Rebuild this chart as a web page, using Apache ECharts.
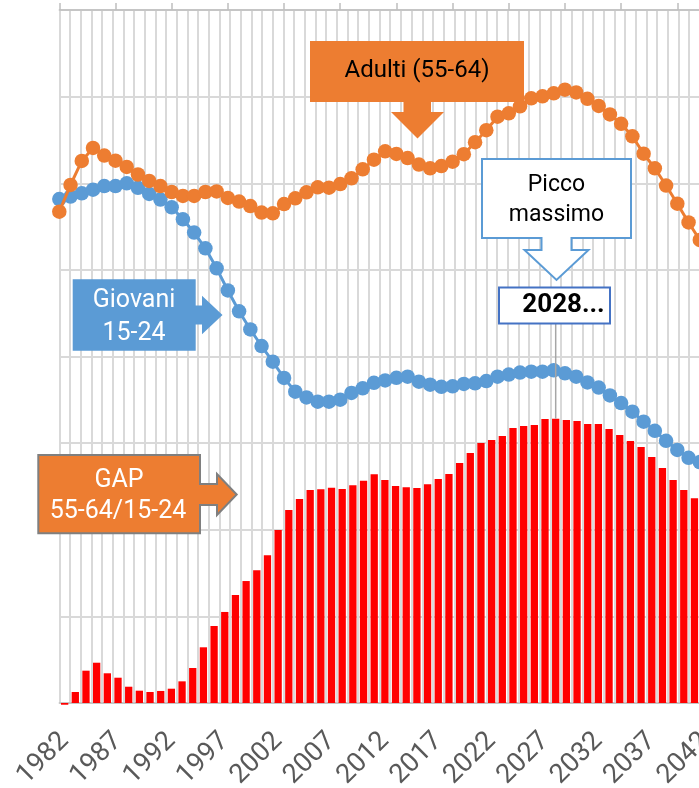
<!DOCTYPE html>
<html>
<head>
<meta charset="utf-8">
<script src="https://cdn.jsdelivr.net/npm/echarts@6/dist/echarts.min.js"></script>
<style>
html,body{margin:0;padding:0;background:#ffffff;}
#chart{width:699px;height:788px;}
</style>
</head>
<body>
<div id="chart"></div>
<script>
// Bar (GAP) categories – primary horizontal axis (bottom)
const barYears = ['1982','1983','1984','1985','1986','1987','1988','1989','1990','1991',
  '1992','1993','1994','1995','1996','1997','1998','1999','2000','2001',
  '2002','2003','2004','2005','2006','2007','2008','2009','2010','2011',
  '2012','2013','2014','2015','2016','2017','2018','2019','2020','2021',
  '2022','2023','2024','2025','2026','2027','2028','2029','2030','2031',
  '2032','2033','2034','2035','2036','2037','2038','2039','2040','2041',
  '2042','2043','2044','2045','2046','2047','2048','2049','2050','2051',
  '2052','2053','2054','2055','2056','2057','2058','2059','2060','2061'];

// Line categories – secondary horizontal axis (top)
const lineYears = ['1982','1983','1984','1985','1986','1987','1988','1989','1990','1991',
  '1992','1993','1994','1995','1996','1997','1998','1999','2000','2001',
  '2002','2003','2004','2005','2006','2007','2008','2009','2010','2011',
  '2012','2013','2014','2015','2016','2017','2018','2019','2020','2021',
  '2022','2023','2024','2025','2026','2027','2028','2029','2030','2031',
  '2032','2033','2034','2035','2036','2037','2038','2039','2040','2041',
  '2042','2043','2044','2045','2046','2047','2048','2049','2050','2051',
  '2052','2053','2054','2055','2056','2057','2058'];

// GAP 55-64/15-24 (bars)
const gapValues = [-2, 12.7, 37.3, 46.5, 34.3, 29.2, 18.8, 14.2, 12.7, 13.9,
  16.5, 25.0, 40.4, 64.3, 88.9, 105.1, 124.7, 140.8, 153.2, 170.5,
  199.7, 222.8, 235.5, 245.9, 246.7, 248.5, 247.0, 251.3, 256.6, 264.0,
  257.4, 250.5, 249.0, 248.2, 252.5, 258.6, 264.4, 277.1, 288.6, 300.1,
  303.6, 308.2, 317.5, 319.8, 320.9, 327.9, 328.2, 326.7, 325.5, 322.1,
  322.1, 316.3, 309.4, 302.5, 295.5, 284.0, 271.3, 257.4, 245.9, 236.3];

// Adulti (55-64)
const adultiValues = [567.2, 598.0, 625.7, 640.7, 632.0, 626.0, 618.8, 610.1, 602.6, 596.8,
  589.9, 585.3, 585.3, 589.9, 590.5, 583.0, 578.9, 573.7, 566.2, 565.3,
  576.0, 582.6, 589.6, 595.3, 594.9, 599.1, 605.7, 616.1, 627.2, 636.9,
  633.8, 629.1, 621.6, 617.3, 619.9, 624.9, 633.5, 647.4, 661.2, 676.8,
  680.8, 688.8, 698.1, 700.4, 703.8, 708.0, 704.8, 697.5, 689.2, 679.4,
  668.6, 654.2, 634.1, 617.3, 597.4, 576.4, 554.7, 534.5];

// Giovani 15-24
const giovaniValues = [581.8, 584.7, 588.4, 592.6, 596.8, 596.8, 599.9, 594.7, 587.6, 581.2,
  572.2, 558.4, 543.1, 524.9, 501.8, 476.2, 452.2, 431.2, 412.1, 394.0,
  375.2, 359.4, 352.7, 347.8, 347.8, 350.1, 357.9, 363.3, 369.6, 372.3,
  375.4, 376.7, 370.9, 367.4, 365.0, 365.6, 368.3, 369.1, 371.7, 376.7,
  379.2, 381.5, 382.5, 382.5, 384.1, 380.6, 376.7, 370.0, 364.2, 355.0,
  346.3, 336.3, 324.7, 314.2, 302.7, 292.1, 283.1, 278.2];

const peakYear = '2028';
const peakLabel = '2028...';

const FONT = 'Roboto, "Open Sans", sans-serif';
const chart = echarts.init(document.getElementById('chart'), null, {renderer: 'canvas', devicePixelRatio: 1});

const option = {
  animation: false,
  backgroundColor: '#ffffff',
  grid: {left: 59.3, top: 10, width: 854, height: 693, containLabel: false, outerBoundsMode: 'none'},
  xAxis: [
    {
      type: 'category', data: barYears, position: 'bottom', boundaryGap: true,
      axisLine: {show: true, lineStyle: {color: '#bfbfbf', width: 1.5}},
      axisTick: {show: false, interval: 0},
      axisLabel: {interval: 4, rotate: 45, fontSize: 27, color: '#595959', fontFamily: FONT,
        margin: 34, hideOverlap: false},
      splitLine: {show: true, interval: 0, lineStyle: {color: '#d9d9d9', width: 2}}
    },
    {
      type: 'category', data: lineYears, position: 'top', boundaryGap: false,
      axisLine: {show: true, lineStyle: {color: '#bfbfbf', width: 1.5}},
      axisTick: {show: true, interval: 4, length: 7, inside: false, lineStyle: {color: '#bfbfbf', width: 1.5}},
      axisLabel: {show: false},
      splitLine: {show: false}
    }
  ],
  yAxis: {
    type: 'value', min: 0, max: 800, interval: 100,
    axisLine: {show: false}, axisTick: {show: false}, axisLabel: {show: false},
    splitLine: {show: true, lineStyle: {color: '#d9d9d9', width: 2}}
  },
  series: [
    {
      name: 'GAP 55-64/15-24', type: 'bar', xAxisIndex: 0, yAxisIndex: 0,
      data: gapValues, barWidth: 7.3, clip: false, z: 2,
      itemStyle: {color: '#FF0000'}
    },
    {
      name: 'Giovani 15-24', type: 'line', xAxisIndex: 1, yAxisIndex: 0,
      data: giovaniValues, symbol: 'circle', symbolSize: 14.5, showAllSymbol: true, z: 3,
      lineStyle: {color: '#5B9BD5', width: 3}, itemStyle: {color: '#5B9BD5'}
    },
    {
      name: 'Adulti (55-64)', type: 'line', xAxisIndex: 1, yAxisIndex: 0,
      data: adultiValues, symbol: 'circle', symbolSize: 14.5, showAllSymbol: true, z: 4,
      lineStyle: {color: '#ED7D31', width: 3}, itemStyle: {color: '#ED7D31'}
    }
  ]
};
chart.setOption(option);

// Annotation callouts
const peakIdx = barYears.indexOf(peakYear);
const peakPt = chart.convertToPixel({xAxisIndex: 0, yAxisIndex: 0}, [peakIdx, gapValues[peakIdx]]);

function txt(x, y, text, size, color, weight) {
  return {type: 'text', x: x, y: y, z: 110,
    style: {text: text, fontSize: size, fontFamily: FONT, fontWeight: weight || 'normal',
      fill: color, align: 'center', verticalAlign: 'middle'}};
}

chart.setOption({
  graphic: [
    {type: 'polygon', z: 100, shape: {points: [[310,41],[524,41],[524,102],[431,102],[431,112],[444,112],[417.5,138.5],[391,112],[403.5,112],[403.5,102],[310,102]]},
      style: {fill: '#ED7D31'}},
    txt(417, 71, 'Adulti (55-64)', 24, '#000000'),
    {type: 'polygon', z: 100, shape: {points: [[482,159],[631,159],[631,238],[571.5,238],[571.5,250],[588.5,250],[556.5,280],[524.5,250],[541.5,250],[541.5,238],[482,238]]},
      style: {fill: '#ffffff', stroke: '#5B9BD5', lineWidth: 2}},
    txt(556.5, 185, 'Picco', 23, '#000000'),
    txt(556.5, 215, 'massimo', 23, '#000000'),
    {type: 'polygon', z: 100, shape: {points: [[72.7,279.3],[195.7,279.3],[195.7,305.5],[202,305.5],[202,295.7],[222.5,315],[202,334.3],[202,324.5],[195.7,324.5],[195.7,350.7],[72.7,350.7]]},
      style: {fill: '#5B9BD5'}},
    txt(134, 301, 'Giovani', 25, '#ffffff'),
    txt(134, 334, '15-24', 25, '#ffffff'),
    {type: 'polygon', z: 100, shape: {points: [[38.3,455],[200,455],[200,484],[217,484],[217,474],[236.7,494.5],[217,515],[217,505],[200,505],[200,533.3],[38.3,533.3]]},
      style: {fill: '#ED7D31', stroke: '#7F7F7F', lineWidth: 2}},
    txt(119, 481, 'GAP', 25, '#ffffff'),
    txt(118, 512, '55-64/15-24', 25, '#ffffff'),
    {type: 'line', z: 105, shape: {x1: peakPt[0], y1: 323.5, x2: peakPt[0], y2: peakPt[1]},
      style: {stroke: '#A6A6A6', lineWidth: 1.5}},
    {type: 'rect', z: 106, shape: {x: 499, y: 287.5, width: 111, height: 36},
      style: {fill: '#ffffff', stroke: '#4472C4', lineWidth: 2}},
    txt(563.5, 305.5, peakLabel, 26, '#000000', 'bold')
  ]
});
</script>
</body>
</html>
